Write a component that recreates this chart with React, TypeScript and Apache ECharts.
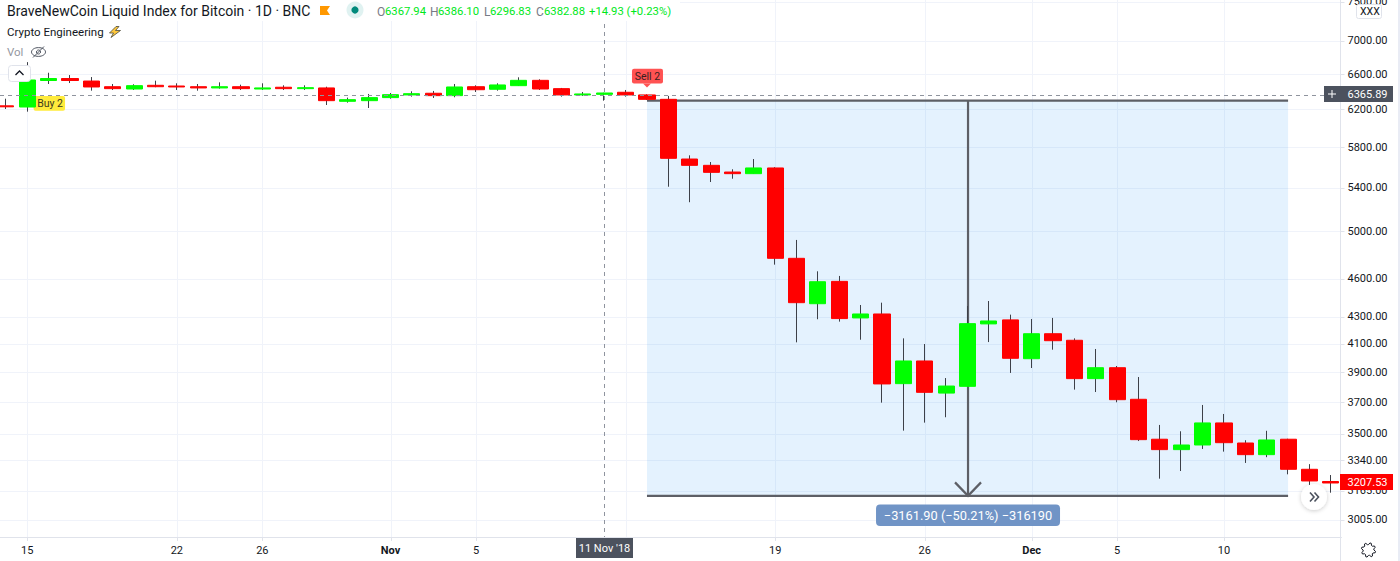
import React, { useEffect, useRef } from "react";
import * as echarts from "echarts";

const categories = [
  "2018-10-14","2018-10-15","2018-10-16","2018-10-17","2018-10-18","2018-10-19","2018-10-20","2018-10-21","2018-10-22",
  "2018-10-23","2018-10-24","2018-10-25","2018-10-26","2018-10-27","2018-10-28","2018-10-29","2018-10-30","2018-10-31",
  "2018-11-01","2018-11-02","2018-11-03","2018-11-04","2018-11-05","2018-11-06","2018-11-07","2018-11-08","2018-11-09",
  "2018-11-10","2018-11-11","2018-11-12","2018-11-13","2018-11-14","2018-11-15","2018-11-16","2018-11-17","2018-11-18",
  "2018-11-19","2018-11-20","2018-11-21","2018-11-22","2018-11-23","2018-11-24","2018-11-25","2018-11-26","2018-11-27",
  "2018-11-28","2018-11-29","2018-11-30","2018-12-01","2018-12-02","2018-12-03","2018-12-04","2018-12-05","2018-12-06",
  "2018-12-07","2018-12-08","2018-12-09","2018-12-10","2018-12-11","2018-12-12","2018-12-13","2018-12-14","2018-12-15",
];
const opens = [
  6240,6227,6525,6548,6519,6454,6428,6470,6462,6454,6440,6454,6428,6448,6432,6440,6290,6297,6331,6361,6380,
  6353,6454,6425,6466,6527,6432,6361,6367.94,6391,6361,6312,5681,5618,5552,5536,5592,4768,4401,4578,4292,
  4322,3822,3978,3759,3804,4247,4277,3994,4174,4126,3856,3931,3718,3465,3402,3430,3566,3442,3372,3465,3286,3216,
];
const closes = [
  6229,6531,6548,6525,6451,6432,6466,6454,6451,6440,6454,6432,6440,6432,6443,6297,6308,6331,6364,6375,6353,
  6451,6420,6474,6527,6428,6361,6372,6382.88,6361,6312,5688,5618,5549,5536,5592,4768,4409,4575,4287,4322,
  3820,3978,3764,3806,4249,4269,3997,4174,4123,3856,3931,3715.5,3462.5,3402,3430,3566,3444,3372,3460.5,3286,3219,3207.53,
];
const lows = [
  6205,6176,6485,6496,6409,6417,6417,6448,6417,6409,6432,6417,6417,6417,6417,6249,6275,6216,6319,6342,6327,
  6335,6394,6409,6462,6417,6342,6350,6296.83,6342,6305,5410,5264,5455,5487,5536,4715,4111,4282,4264,4130,
  3696,3518,3568,3602,3800,4113,3895,3929,4058,3782,3766,3698.5,3454,3232,3276,3406,3390,3323,3357,3257,3165,3153,
];
const highs = [
  6319,6740,6615,6588,6565,6485,6482,6523,6493,6485,6504,6477,6493,6470,6470,6454,6331,6372,6383,6402,6406,
  6485,6470,6493,6562,6539,6440,6394,6386.1,6417,6368,6350,5718,5651,5579,5681,5600,4925,4660,4622,4391,
  4409,4140,4099,3860,4383,4422,4317,4284,4292,4140,4063,3943,3867,3553.5,3514,3681,3623,3459,3517,3468,3316,3253,
];
const yTickValues = [7500,7000,6600,6200,5800,5400,5000,4600,4300,4100,3900,3700,3500,3340,3165,3005];
const xLabelDates = ["2018-10-15","2018-10-22","2018-10-26","2018-11-01","2018-11-05","2018-11-19","2018-11-26","2018-12-01","2018-12-05","2018-12-10"];
const xLabelTexts = ["15","22","26","Nov","5","19","26","Dec","5","10"];
const xGridDates = ["2018-10-15","2018-10-22","2018-10-26","2018-11-01","2018-11-05","2018-11-12","2018-11-19","2018-11-26","2018-12-01","2018-12-05","2018-12-10"];

const measureStart = "2018-11-13";
const measureEnd = "2018-12-13";
const measureMid = "2018-11-28";
const measureTop = 6297.3;
const measureBottom = 3135.4;
const measureLabel = "\u22123161.90 (\u221250.21%) \u2212316190";
const crossDate = "2018-11-11";
const crossPrice = 6365.89;
const buyDate = "2018-10-15";
const buyPrice = 6227;
const sellDate = "2018-11-13";
const sellPrice = 6368;

const FONT = "Roboto, 'Noto Sans', sans-serif";
const AXIS = "#e0e3eb";
const GRID = "#f0f3fa";
const TXT = "#131722";
const UP = "#00ff00";
const DOWN = "#ff0000";
const PLOT_RIGHT = 1340.5;
const YMIN = 2916;
const YMAX = 7521;

const idx = (d: string) => categories.indexOf(d);

function gridRender(params: any, api: any) {
  const p = api.coord([api.value(0), YMIN]);
  const x = Math.round(p[0]) + 0.5;
  return {
    type: "group",
    children: [
      { type: "line", shape: { x1: x, y1: 0, x2: x, y2: p[1] }, style: { stroke: GRID, lineWidth: 1 } },
      { type: "line", shape: { x1: x, y1: p[1], x2: x, y2: p[1] + 4 }, style: { stroke: AXIS, lineWidth: 1 } },
    ],
  };
}

function yTickRender(params: any, api: any) {
  const v = api.value(1);
  const p = api.coord([0, v]);
  const y = Math.round(p[1]) + 0.5;
  return {
    type: "group",
    children: [
      { type: "line", shape: { x1: 0, y1: y, x2: PLOT_RIGHT, y2: y }, style: { stroke: GRID, lineWidth: 1 } },
      { type: "line", shape: { x1: PLOT_RIGHT, y1: y, x2: PLOT_RIGHT + 4, y2: y }, style: { stroke: AXIS, lineWidth: 1 } },
      {
        type: "text",
        style: { text: v.toFixed(2), x: 1347.5, y: p[1], fill: TXT, font: `11px ${FONT}`, align: "left", verticalAlign: "middle" },
      },
    ],
  };
}

function measureRender(params: any, api: any) {
  const a = api.coord([api.value(0), api.value(2)]);
  const b = api.coord([api.value(1), api.value(3)]);
  const m = api.coord([api.value(4), api.value(2)]);
  const c = "#5d5f66";
  const xm = m[0] + 0.5;
  return {
    type: "group",
    children: [
      { type: "rect", shape: { x: a[0], y: a[1], width: b[0] - a[0], height: b[1] - a[1] }, style: { fill: "rgba(33,150,243,0.12)" } },
      { type: "line", shape: { x1: a[0], y1: a[1], x2: b[0], y2: a[1] }, style: { stroke: c, lineWidth: 2.2 } },
      { type: "line", shape: { x1: a[0], y1: b[1], x2: b[0], y2: b[1] }, style: { stroke: c, lineWidth: 2.2 } },
      { type: "line", shape: { x1: xm, y1: a[1], x2: xm, y2: b[1] }, style: { stroke: c, lineWidth: 2.2 } },
      {
        type: "polyline",
        shape: { points: [[xm - 13, b[1] - 13.5], [xm, b[1]], [xm + 13, b[1] - 13.5]] },
        style: { stroke: c, lineWidth: 2.2, fill: "none" },
      },
      {
        type: "rect",
        shape: { x: xm - 92, y: b[1] + 8.5, width: 184, height: 21.5, r: 4 },
        style: { fill: "#7094c6" },
      },
      {
        type: "text",
        style: {
          text: measureLabel, x: xm, y: b[1] + 19.5, fill: "#ffffff", font: `12.8px ${FONT}`,
          align: "center", verticalAlign: "middle",
        },
      },
    ],
  };
}

function crossRender(params: any, api: any) {
  const p = api.coord([api.value(0), api.value(1)]);
  const bottom = api.coord([api.value(0), YMIN])[1];
  const x = Math.round(p[0]) + 0.5;
  const y = Math.round(p[1]) + 0.5;
  const style = { stroke: "#8f949e", lineWidth: 1, lineDash: [4, 4] };
  return {
    type: "group",
    children: [
      { type: "line", shape: { x1: x, y1: 0, x2: x, y2: bottom }, style },
      { type: "line", shape: { x1: 0, y1: y, x2: PLOT_RIGHT, y2: y }, style },
    ],
  };
}

function buyRender(params: any, api: any) {
  const p = api.coord([api.value(0), api.value(1)]);
  const x = p[0] + 6.3;
  const y = p[1] - 11;
  return {
    type: "group",
    children: [
      { type: "rect", shape: { x, y, width: 31.5, height: 14.7, r: 2 }, style: { fill: "#ffeb3b" } },
      {
        type: "text",
        style: { text: "Buy 2", x: x + 16.5, y: y + 7.7, fill: "#3a3a20", font: `10.5px ${FONT}`, align: "center", verticalAlign: "middle" },
      },
    ],
  };
}

function sellRender(params: any, api: any) {
  const p = api.coord([api.value(0), api.value(1)]);
  const x = p[0] - 15;
  const y = p[1] - 25.6;
  return {
    type: "group",
    children: [
      { type: "rect", shape: { x, y, width: 31, height: 14.7, r: 2 }, style: { fill: "#ff5252" } },
      { type: "polygon", shape: { points: [[p[0] - 4, y + 14.7], [p[0] + 4, y + 14.7], [p[0], y + 18.7]] }, style: { fill: "#ff5252" } },
      {
        type: "text",
        style: { text: "Sell 2", x: x + 15.5, y: y + 7.7, fill: "#3a2020", font: `10.5px ${FONT}`, align: "center", verticalAlign: "middle" },
      },
    ],
  };
}

function App() {
  const ref = useRef<HTMLDivElement>(null);
  useEffect(() => {
    document.body.style.margin = "0";
    const chart = echarts.init(ref.current!, null, { renderer: "svg" });

    const ohlc = categories.map((_, i) => [opens[i], closes[i], lows[i], highs[i]]);
    const bodies = categories.map((_, i) => [
      opens[i], closes[i], Math.min(opens[i], closes[i]), Math.max(opens[i], closes[i]),
    ]);

    const t = (text: string, x: number, y: number, fill: string, size = 12, extra: any = {}) => ({
      type: "text", z: 100, x, y,
      style: { text, fill, font: `${size}px ${FONT}`, align: "left", verticalAlign: "middle", ...extra },
    });
    const GREEN = "#00e81a";
    const gearPts: number[][] = [];
    for (let i = 0; i < 32; i++) {
      const a = (i / 32) * Math.PI * 2;
      const r = i % 4 < 2 ? 7.2 : 5.4;
      gearPts.push([1368.5 + r * Math.cos(a + 0.2), 550 + r * Math.sin(a + 0.2)]);
    }

    chart.setOption({
      animation: false,
      backgroundColor: "#ffffff",
      grid: { left: -4.8, right: 58.5, top: 0, bottom: 24, outerBoundsMode: "none" },
      xAxis: {
        type: "category",
        data: categories,
        boundaryGap: true,
        axisLine: { onZero: false, lineStyle: { color: AXIS, width: 1 } },
        axisTick: { show: false },
        splitLine: { show: false },
        axisLabel: {
          interval: (_i: number, v: string) => xLabelDates.includes(v),
          margin: 8,
          hideOverlap: false,
          formatter: (v: string) => {
            const s = xLabelTexts[xLabelDates.indexOf(v)] ?? "";
            return s === "Nov" || s === "Dec" ? `{b|${s}}` : s;
          },
          color: TXT,
          fontFamily: FONT,
          fontSize: 11,
          rich: { b: { fontFamily: FONT, fontSize: 11, fontWeight: "bold", color: TXT } },
        },
      },
      yAxis: {
        type: "log",
        position: "right",
        min: YMIN,
        max: YMAX,
        axisLine: { show: false },
        axisTick: { show: false },
        axisLabel: { show: false },
        splitLine: { show: false },
        minorTick: { show: false },
        minorSplitLine: { show: false },
      },
      series: [
        {
          type: "custom", name: "xgrid", z: 1, silent: true,
          data: xGridDates.map((d) => [idx(d)]),
          encode: { x: 0 },
          renderItem: gridRender,
        },
        {
          type: "custom", name: "yticks", z: 1, silent: true,
          data: yTickValues.map((v) => [0, v]),
          encode: { x: 0, y: 1 },
          renderItem: yTickRender,
        },
        {
          type: "custom", name: "measure", z: 2, silent: true,
          data: [[idx(measureStart), idx(measureEnd), measureTop, measureBottom, idx(measureMid)]],
          encode: { x: [0, 1, 4], y: [2, 3] },
          renderItem: measureRender,
        },
        {
          type: "custom", name: "buy", z: 2, silent: true,
          data: [[idx(buyDate), buyPrice]],
          encode: { x: 0, y: 1 },
          renderItem: buyRender,
        },
        {
          type: "candlestick", name: "wicks", z: 3, barWidth: 1, silent: true,
          data: ohlc,
          itemStyle: { color: "#3d4048", color0: "#3d4048", borderColor: "#3d4048", borderColor0: "#3d4048", borderWidth: 1 },
        },
        {
          type: "candlestick", name: "bodies", z: 4, barWidth: 16.6, silent: true,
          data: bodies,
          itemStyle: { color: UP, color0: DOWN, borderColor: UP, borderColor0: DOWN, borderWidth: 1 },
        },
        {
          type: "custom", name: "sell", z: 5, silent: true,
          data: [[idx(sellDate), sellPrice]],
          encode: { x: 0, y: 1 },
          renderItem: sellRender,
        },
        {
          type: "custom", name: "cross", z: 5, silent: true,
          data: [[idx(crossDate), crossPrice]],
          encode: { x: 0, y: 1 },
          renderItem: crossRender,
        },
      ],
      graphic: [
        { type: "rect", z: 90, shape: { x: 0, y: 0, width: 130, height: 62 }, style: { fill: "#ffffff" } },
        { type: "rect", z: 90, shape: { x: 130, y: 0, width: 550, height: 21 }, style: { fill: "#ffffff" } },
        t("BraveNewCoin Liquid Index for Bitcoin \u00b7 1D \u00b7 BNC", 7, 11, TXT, 14),
        { type: "polygon", z: 100, shape: { points: [[320, 6], [330, 6], [327, 10.5], [330, 15], [320, 15]] }, style: { fill: "#ff9800" } },
        { type: "circle", z: 100, shape: { cx: 355, cy: 10, r: 8.5 }, style: { fill: "#e0f2f1" } },
        { type: "circle", z: 100, shape: { cx: 355, cy: 10, r: 3.6 }, style: { fill: "#00897b" } },
        t("O", 377, 11.5, "#787b86"), t("6367.94", 385, 11.5, GREEN, 11.3),
        t("H", 430, 11.5, "#787b86"), t("6386.10", 438, 11.5, GREEN, 11.3),
        t("L", 484, 11.5, "#787b86"), t("6296.83", 490, 11.5, GREEN, 11.3),
        t("C", 536, 11.5, "#787b86"), t("6382.88", 544, 11.5, GREEN, 11.3),
        t("+14.93 (+0.23%)", 589, 11.5, GREEN, 11.3),
        t("Crypto Engineering", 7, 32, TXT, 11.5),
        {
          type: "polygon", z: 100,
          shape: { points: [[116, 26.5], [109.5, 33], [113.5, 33], [111, 37.5], [120.5, 30.5], [115.5, 30.5], [119, 26.5]] },
          style: { fill: "#ffc83d", stroke: "#4a4a3a", lineWidth: 0.8 },
        },
        t("Vol", 7, 52, "#9598a1", 11.5),
        { type: "ellipse", z: 100, shape: { cx: 38.5, cy: 52, rx: 7, ry: 4.4 }, style: { fill: "none", stroke: "#4c525e", lineWidth: 1 } },
        { type: "circle", z: 100, shape: { cx: 38.5, cy: 52, r: 2 }, style: { fill: "none", stroke: "#4c525e", lineWidth: 1 } },
        { type: "line", z: 100, shape: { x1: 33, y1: 57.5, x2: 44, y2: 46.5 }, style: { stroke: "#4c525e", lineWidth: 1 } },
        { type: "rect", z: 100, shape: { x: 8.5, y: 65.5, width: 22, height: 16, r: 3 }, style: { fill: "#ffffff", stroke: AXIS, lineWidth: 1 } },
        { type: "polyline", z: 100, shape: { points: [[15.5, 75], [19.5, 71], [23.5, 75]] }, style: { fill: "none", stroke: TXT, lineWidth: 1.3 } },
        { type: "line", z: 100, shape: { x1: PLOT_RIGHT, y1: 0, x2: PLOT_RIGHT, y2: 561 }, style: { stroke: AXIS, lineWidth: 1 } },
        { type: "rect", z: 100, shape: { x: 1398, y: 0, width: 2, height: 561 }, style: { fill: "#e9ecf5" } },
        { type: "rect", z: 100, shape: { x: 1356.5, y: 4.5, width: 25, height: 14, r: 2 }, style: { fill: "#ffffff", stroke: AXIS, lineWidth: 1 } },
        t("XXX", 1360, 11.8, TXT, 10.5),
        { type: "rect", z: 100, shape: { x: 1324, y: 86, width: 69, height: 16 }, style: { fill: "#4c525e" } },
        { type: "line", z: 101, shape: { x1: 1328, y1: 94, x2: 1336, y2: 94 }, style: { stroke: "#ffffff", lineWidth: 1 } },
        { type: "line", z: 101, shape: { x1: 1332, y1: 90, x2: 1332, y2: 98 }, style: { stroke: "#ffffff", lineWidth: 1 } },
        t("6365.89", 1347.5, 94, "#ffffff", 11),
        { type: "rect", z: 100, shape: { x: 1340, y: 474, width: 53, height: 16 }, style: { fill: DOWN } },
        t("3207.53", 1347.5, 482, "#ffffff", 11),
        { type: "rect", z: 100, shape: { x: 576, y: 538, width: 57, height: 20 }, style: { fill: "#4c525e" } },
        t("11 Nov '18", 604.5, 548, "#ffffff", 11, { align: "center" }),
        {
          type: "circle", z: 100, shape: { cx: 1314, cy: 497, r: 13 },
          style: { fill: "#ffffff", shadowBlur: 4, shadowColor: "rgba(0,0,0,0.2)", shadowOffsetY: 1 },
        },
        { type: "polyline", z: 101, shape: { points: [[1310, 492.5], [1314, 497], [1310, 501.5]] }, style: { fill: "none", stroke: "#4c525e", lineWidth: 1.6 } },
        { type: "polyline", z: 101, shape: { points: [[1314.5, 492.5], [1318.5, 497], [1314.5, 501.5]] }, style: { fill: "none", stroke: "#4c525e", lineWidth: 1.6 } },
        { type: "polygon", z: 100, shape: { points: gearPts }, style: { fill: "none", stroke: TXT, lineWidth: 1 } },
      ],
    });
    return () => chart.dispose();
  }, []);
  return <div ref={ref} style={{ width: 1400, height: 561 }} />;
}

export default App;
